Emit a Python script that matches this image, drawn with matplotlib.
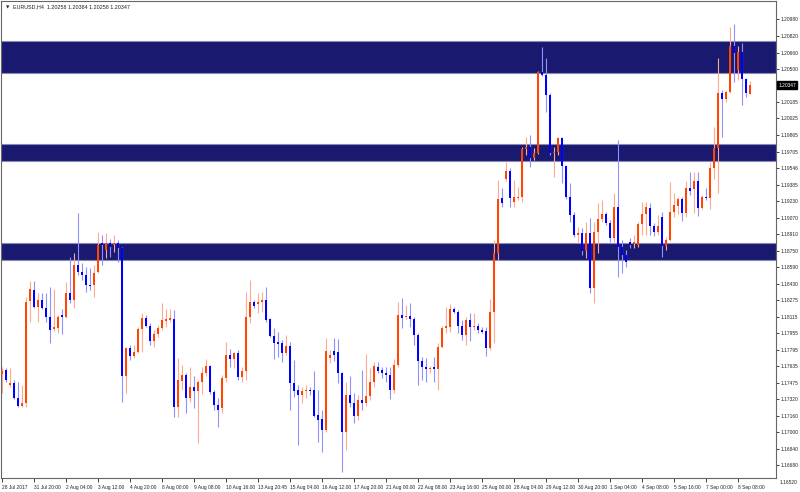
import matplotlib
matplotlib.use("Agg")
import matplotlib.pyplot as plt
import matplotlib.transforms as mtransforms
import numpy as np

opens = [
1.17560,1.17599,1.17454,1.17473,1.17329,1.17252,1.17281,1.18263,1.18369,1.18206,
1.18273,1.18196,1.18109,1.17994,1.18003,1.18128,1.18109,1.18340,1.18273,1.18610,
1.18543,1.18514,1.18417,1.18417,1.18543,1.18821,1.18754,1.18821,1.18802,1.18821,
1.18773,1.17541,1.17810,1.17733,1.17772,1.17994,1.18099,1.18022,1.17878,1.17945,
1.18003,1.18070,1.18080,1.18090,1.17242,1.17492,1.17551,1.17329,1.17435,1.17396,
1.17483,1.17570,1.17637,1.17387,1.17262,1.17233,1.17521,1.17743,1.17704,1.17762,
1.17531,1.17589,1.18109,1.18254,1.18234,1.18254,1.18273,1.18090,1.17926,1.17868,
1.17858,1.17762,1.17830,1.17473,1.17406,1.17358,1.17396,1.17406,1.17406,1.17165,
1.17127,1.17021,1.17714,1.17782,1.17772,1.17570,1.17001,1.17358,1.17281,1.17156,
1.17310,1.17281,1.17348,1.17483,1.17628,1.17599,1.17570,1.17551,1.17406,1.17647,
1.18128,1.18109,1.18119,1.18090,1.17935,1.17685,1.17628,1.17608,1.17628,1.17608,
1.17820,1.18003,1.18013,1.18186,1.18157,1.18022,1.17935,1.18080,1.18013,1.18022,
1.17984,1.17974,1.17810,1.18157,1.18725,1.19255,1.19438,1.19515,1.19216,1.19255,
1.19265,1.19727,1.19746,1.19640,1.19688,1.20468,1.20440,1.20247,1.19688,1.19698,
1.19833,1.19563,1.19265,1.19091,1.18899,1.18918,1.18745,1.18918,1.18388,1.18928,
1.19053,1.19101,1.19014,1.18870,1.19168,1.18783,1.18706,1.18831,1.18812,1.18802,
1.19005,1.19101,1.19158,1.18985,1.18928,1.19072,1.18793,1.18850,1.19120,1.19178,
1.19245,1.19110,1.19351,1.19342,1.19418,1.19158,1.19265,1.19255,1.19544,1.19736,
1.20266,1.20208,1.20276,1.20719,1.20488,1.20661,1.20401,1.20258]

closes = [
1.17589,1.17502,1.17473,1.17329,1.17252,1.17281,1.18254,1.18378,1.18206,1.18273,
1.18196,1.18109,1.17984,1.18013,1.18109,1.18109,1.18340,1.18273,1.18610,1.18543,
1.18514,1.18417,1.18407,1.18533,1.18802,1.18802,1.18821,1.18783,1.18821,1.18773,
1.17541,1.17810,1.17733,1.17772,1.17994,1.18099,1.18022,1.17878,1.17945,1.18003,
1.18080,1.18090,1.18099,1.17242,1.17502,1.17551,1.17329,1.17435,1.17396,1.17483,
1.17570,1.17637,1.17387,1.17262,1.17213,1.17521,1.17743,1.17704,1.17762,1.17531,
1.17589,1.18109,1.18254,1.18215,1.18254,1.18273,1.18080,1.17926,1.17858,1.17849,
1.17762,1.17830,1.17473,1.17396,1.17358,1.17396,1.17406,1.17396,1.17156,1.17117,
1.17021,1.17782,1.17743,1.17743,1.17570,1.17001,1.17358,1.17281,1.17156,1.17310,
1.17281,1.17348,1.17483,1.17637,1.17589,1.17570,1.17551,1.17406,1.17647,1.18128,
1.18099,1.18119,1.18090,1.17935,1.17685,1.17628,1.17608,1.17618,1.17608,1.17820,
1.18003,1.18022,1.18186,1.18157,1.18022,1.17935,1.18080,1.18013,1.18022,1.17984,
1.17964,1.17810,1.18157,1.18725,1.19245,1.19207,1.19515,1.19255,1.19265,1.19265,
1.19727,1.19746,1.19640,1.19688,1.20468,1.20440,1.20247,1.19688,1.19698,1.19833,
1.19563,1.19265,1.19091,1.18899,1.18918,1.18745,1.18918,1.18388,1.18928,1.19053,
1.19101,1.19014,1.18870,1.19168,1.18783,1.18706,1.18639,1.18802,1.18831,1.19005,
1.19101,1.19168,1.18985,1.18928,1.18985,1.18793,1.18850,1.19120,1.19188,1.19245,
1.19110,1.19351,1.19322,1.19418,1.19158,1.19265,1.19255,1.19544,1.19736,1.20266,
1.20208,1.20276,1.20719,1.20651,1.20661,1.20401,1.20266,1.20347]

highs = [
1.17628,1.17618,1.17618,1.17502,1.17483,1.17454,1.18302,1.18455,1.18455,1.18340,
1.18340,1.18340,1.18398,1.18378,1.18128,1.18186,1.18446,1.18687,1.18725,1.19110,
1.18629,1.18591,1.18581,1.18610,1.18928,1.18899,1.18918,1.18860,1.18899,1.18850,
1.18783,1.17820,1.17839,1.17839,1.18013,1.18147,1.18128,1.18051,1.17984,1.18032,
1.18244,1.18186,1.18186,1.18176,1.17714,1.17647,1.17570,1.17628,1.17541,1.17502,
1.17628,1.17704,1.17647,1.17406,1.17329,1.17551,1.17868,1.17801,1.17772,1.17791,
1.17628,1.18350,1.18465,1.18273,1.18340,1.18350,1.18398,1.18099,1.18003,1.17964,
1.17887,1.17935,1.17868,1.17695,1.17454,1.17435,1.17454,1.17435,1.17589,1.17406,
1.17213,1.17907,1.17791,1.17907,1.17897,1.17579,1.17483,1.17541,1.17377,1.17358,
1.17599,1.17753,1.17618,1.17676,1.17676,1.17628,1.17628,1.17628,1.17704,1.18254,
1.18292,1.18225,1.18244,1.18109,1.17955,1.17724,1.17714,1.17637,1.17724,1.17858,
1.18022,1.18206,1.18234,1.18206,1.18176,1.18080,1.18109,1.18147,1.18147,1.18051,
1.18013,1.18013,1.18282,1.18850,1.19428,1.19351,1.19602,1.19544,1.19428,1.19361,
1.19746,1.19842,1.19862,1.19736,1.20478,1.20709,1.20603,1.20266,1.19746,1.19842,
1.19842,1.19573,1.19400,1.19120,1.18976,1.18966,1.19024,1.19062,1.19024,1.19207,
1.19236,1.19120,1.19043,1.19303,1.19813,1.18850,1.18754,1.18870,1.18899,1.19024,
1.19216,1.19216,1.19207,1.19014,1.19091,1.19120,1.18879,1.19409,1.19303,1.19265,
1.19265,1.19419,1.19505,1.19505,1.19505,1.19284,1.19351,1.19602,1.19939,1.20603,
1.20295,1.20295,1.20902,1.20931,1.20728,1.20748,1.20410,1.20384]

lows = [
1.17377,1.17483,1.17435,1.17319,1.17242,1.17242,1.17242,1.18061,1.18196,1.18061,
1.18186,1.18061,1.17858,1.17974,1.17955,1.17945,1.18099,1.18244,1.18196,1.18514,
1.18465,1.18350,1.18369,1.18302,1.18533,1.18610,1.18677,1.18687,1.18735,1.18639,
1.17291,1.17377,1.17695,1.17714,1.17762,1.17772,1.18013,1.17839,1.17820,1.17916,
1.17984,1.18013,1.18061,1.17146,1.17146,1.17406,1.17184,1.17291,1.17233,1.16895,
1.17367,1.17541,1.17367,1.17213,1.17050,1.17184,1.17483,1.17628,1.17618,1.17502,
1.17483,1.17502,1.18051,1.18196,1.18147,1.18157,1.18061,1.17916,1.17704,1.17724,
1.17676,1.17743,1.17213,1.17339,1.16876,1.17281,1.17329,1.17358,1.17146,1.16905,
1.16809,1.17001,1.17666,1.17685,1.17473,1.16616,1.16828,1.17242,1.17088,1.17117,
1.17213,1.17252,1.17310,1.17435,1.17570,1.17521,1.17483,1.17319,1.17377,1.17628,
1.18003,1.18090,1.18013,1.17839,1.17454,1.17502,1.17483,1.17570,1.17483,1.17406,
1.17810,1.17955,1.17964,1.18147,1.17955,1.17887,1.17839,1.17878,1.17984,1.17955,
1.17955,1.17733,1.17791,1.17858,1.18658,1.19168,1.19419,1.19168,1.19168,1.19236,
1.19216,1.19669,1.19553,1.19621,1.19679,1.20430,1.20083,1.19669,1.19457,1.19669,
1.19400,1.19245,1.19024,1.18879,1.18831,1.18706,1.18677,1.18340,1.18244,1.18725,
1.19024,1.18995,1.18831,1.18821,1.18494,1.18533,1.18591,1.18773,1.18773,1.18783,
1.18899,1.18899,1.18899,1.18889,1.18899,1.18687,1.18754,1.18841,1.19072,1.19101,
1.19033,1.19072,1.19284,1.19110,1.19082,1.19149,1.19236,1.19149,1.19438,1.19303,
1.19842,1.20179,1.20266,1.20372,1.20391,1.20151,1.20228,1.20258]

time_labels = ["28 Jul 2017", "31 Jul 20:00", "2 Aug 04:00", "3 Aug 12:00", "4 Aug 20:00",
               "8 Aug 00:00", "9 Aug 08:00", "10 Aug 16:00", "13 Aug 20:45", "15 Aug 04:00",
               "16 Aug 12:00", "17 Aug 20:00", "21 Aug 00:00", "22 Aug 08:00", "23 Aug 16:00",
               "25 Aug 00:00", "28 Aug 04:00", "29 Aug 12:00", "30 Aug 20:00", "1 Sep 04:00",
               "4 Sep 08:00", "5 Sep 16:00", "7 Sep 00:00", "8 Sep 08:00"]
label_step = 8

price_ticks = [1.20980, 1.20820, 1.20660, 1.20500, 1.20185, 1.20025, 1.19865, 1.19705,
               1.19546, 1.19385, 1.19230, 1.19070, 1.18910, 1.18750, 1.18590, 1.18430,
               1.18275, 1.18115, 1.17955, 1.17795, 1.17635, 1.17475, 1.17320, 1.17160,
               1.17000, 1.16840, 1.16680]
bottom_tick = 1.16520

zones = [(1.20459, 1.20767), (1.19611, 1.19775), (1.18658, 1.18822)]

symbol = "EURUSD,H4"
current_price = 1.20347

FONT = "Liberation Sans"
FS = 3.55

o = np.array(opens); c = np.array(closes)
h = np.maximum(np.array(highs), np.maximum(o, c))
l = np.minimum(np.array(lows), np.minimum(o, c))
x = np.arange(len(o))
bull = c >= o

BULL = "#FF4500"
BEAR = "#0000FF"
BULL_W = "#FFAA90"
BEAR_W = "#9090FF"

fig = plt.figure(figsize=(8, 4.92), dpi=100)
ax = fig.add_axes([1/800, 14/492, 775/800, 477/492])
ax.set_facecolor("white")

for lo, hi in zones:
    ax.axhspan(lo, hi, facecolor="#191970", edgecolor="#8a8ab8", linewidth=0.8, zorder=1)

ax.vlines(x[bull], l[bull], h[bull], color=BULL_W, linewidth=0.8, zorder=2)
ax.vlines(x[~bull], l[~bull], h[~bull], color=BEAR_W, linewidth=0.8, zorder=2)
body_h = np.maximum(np.abs(c - o), 0.00007)
body_b = np.minimum(o, c)
ax.bar(x[bull], body_h[bull], bottom=body_b[bull], width=0.62, color=BULL, linewidth=0, zorder=3)
ax.bar(x[~bull], body_h[~bull], bottom=body_b[~bull], width=0.62, color=BEAR, linewidth=0, zorder=3)

ax.set_xlim(-0.25, 193.5)
ax.set_ylim(1.16559, 1.21157)

ax.yaxis.tick_right()
ax.set_yticks(price_ticks)
ax.set_yticklabels([f"{v:.5f}" for v in price_ticks], fontfamily=FONT)
ax.tick_params(axis="y", labelsize=FS, length=2.5, width=0.6, pad=1.0, colors="#222222")

xt = list(range(0, label_step * len(time_labels), label_step))
ax.set_xticks(xt)
ax.set_xticklabels(time_labels, ha="left", fontfamily=FONT)
ax.tick_params(axis="x", labelsize=FS, length=3, width=0.6, pad=2, colors="#222222")

for s in ax.spines.values():
    s.set_color("#666666")
    s.set_linewidth(0.8)

trans = mtransforms.blended_transform_factory(ax.transAxes, ax.transData)
ax.annotate(f"{bottom_tick:.5f}", xy=(1.0, bottom_tick), xycoords=trans,
            xytext=(2.9, 0), textcoords="offset points", fontsize=FS, family=FONT,
            color="#222222", va="center", ha="left", annotation_clip=False)

ax.annotate(f"{current_price:.5f}", xy=(1.0, current_price), xycoords=trans,
            xytext=(1.6, 0), textcoords="offset points", fontsize=FS, family=FONT,
            color="white", va="center", ha="left", annotation_clip=False,
            bbox=dict(boxstyle="square,pad=0.3", facecolor="black", edgecolor="black"))

header = f"{symbol}  {opens[-1]:.5f} {highs[-1]:.5f} {lows[-1]:.5f} {closes[-1]:.5f}"
ax.text(0.006, 0.991, "\u25BC", transform=ax.transAxes, fontsize=3.2, va="top", ha="left", color="#222222")
ax.text(0.0155, 0.993, header, transform=ax.transAxes, fontsize=3.9, family=FONT, va="top", ha="left", color="#222222")

fig.savefig("out.png", dpi=100, facecolor="white")
